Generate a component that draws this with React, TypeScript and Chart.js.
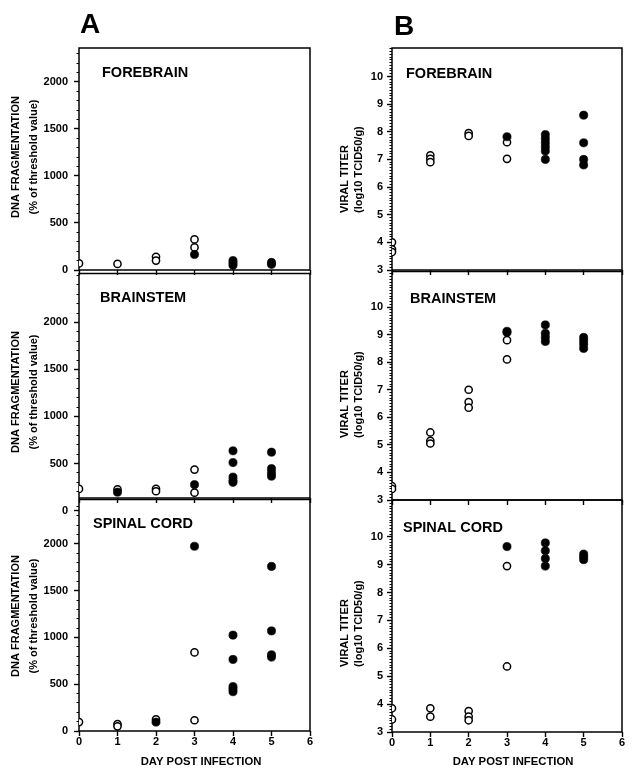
import React, { useEffect, useRef } from "react";
import { Chart, registerables } from "chart.js";

Chart.register(...registerables);

const FONT = "'Liberation Sans', Arial, Helvetica, sans-serif";

// ---- data (values by day post infection; each inner list = animals that day) ----
const days = [0, 1, 2, 3, 4, 5];

// DNA fragmentation (% of threshold value); open = open circles, filled = filled circles
const dnaForebrainOpen = [[70], [65], [140, 100], [325, 240], [], []];
const dnaForebrainFilled = [[], [], [], [165], [100, 75, 50], [80, 60]];
const dnaBrainstemOpen = [[230], [225], [230, 205], [435, 190], [], []];
const dnaBrainstemFilled = [[], [195], [], [275], [635, 510, 355, 320, 300], [620, 445, 400, 365]];
const dnaSpinalOpen = [[95], [75, 50], [125], [840, 115], [], []];
const dnaSpinalFilled = [[], [], [95], [1975], [1025, 765, 475, 450, 420], [1760, 1070, 815, 790]];

// Viral titer (log10 TCID50/g)
const titerForebrainOpen = [[4.0, 3.75, 3.65], [7.15, 7.02, 6.9], [7.95, 7.85], [7.62, 7.02], [], []];
const titerForebrainFilled = [[], [], [], [7.82], [7.9, 7.75, 7.6, 7.45, 7.3, 7.0], [8.6, 7.6, 7.0, 6.8]];
const titerBrainstemOpen = [[3.5, 3.4], [5.45, 5.15, 5.05], [7.0, 6.55, 6.35], [8.8, 8.1], [], []];
const titerBrainstemFilled = [[], [], [], [9.12, 9.08], [9.35, 9.05, 8.9, 8.75], [8.9, 8.78, 8.65, 8.5]];
const titerSpinalOpen = [[3.85, 3.45], [3.85, 3.55], [3.75, 3.55, 3.42], [8.95, 5.35], [], []];
const titerSpinalFilled = [[], [], [], [9.65], [9.78, 9.5, 9.22, 8.95], [9.38, 9.28, 9.18]];

// tick labels
const dnaMajorTicks = [0, 500, 1000, 1500, 2000];
const titerMajorTicks = [3, 4, 5, 6, 7, 8, 9, 10];
const dayTickMin = 0;
const dayTickMax = 6;

const regionNames = ["FOREBRAIN", "BRAINSTEM", "SPINAL CORD"];
const dnaTitle = ["DNA FRAGMENTATION", "(% of threshold value)"];
const titerTitle = ["VIRAL TITER", "(log10 TCID50/g)"];
const xTitle = "DAY POST INFECTION";

// ---- helpers ----
type Txt = {
  text: string;
  x: number;
  y: number;
  size: number;
  align?: CanvasTextAlign;
  baseline?: CanvasTextBaseline;
  rotate?: number;
};

type PanelSpec = {
  key: string;
  left: number;
  top: number;
  width: number;
  height: number;
  area: { left: number; top: number; right: number; bottom: number };
  yMin: number;
  yMax: number;
  yStep: number;
  majors: number[];
  extraTicks?: number[];
  yPad: number;
  showX: boolean;
  open: number[][];
  filled: number[][];
  texts: Txt[];
};

const toPoints = (byDay: number[][]) =>
  byDay.flatMap((vals, i) => vals.map((v) => ({ x: days[i], y: v })));

const framePlugin = {
  id: "frame",
  beforeDatasetsDraw(chart: any) {
    const { ctx, chartArea: a } = chart;
    ctx.save();
    ctx.strokeStyle = "#000";
    ctx.lineWidth = 1.5;
    ctx.strokeRect(a.left, a.top, a.right - a.left, a.bottom - a.top);
    ctx.restore();
  },
};

const makeTextPlugin = (items: Txt[], ox: number, oy: number) => ({
  id: "pageTexts",
  afterDraw(chart: any) {
    const ctx = chart.ctx;
    items.forEach((t) => {
      ctx.save();
      ctx.font = `bold ${t.size}px ${FONT}`;
      ctx.fillStyle = "#000";
      ctx.textAlign = t.align || "left";
      ctx.textBaseline = t.baseline || "alphabetic";
      ctx.translate(t.x - ox, t.y - oy);
      if (t.rotate) ctx.rotate(t.rotate);
      ctx.fillText(t.text, 0, 0);
      ctx.restore();
    });
  },
});

const rot = -Math.PI / 2;

const aTitles = (cy: number): Txt[] => [
  { text: dnaTitle[0], x: 16, y: cy, size: 11, align: "center", baseline: "middle", rotate: rot },
  { text: dnaTitle[1], x: 33.5, y: cy, size: 11, align: "center", baseline: "middle", rotate: rot },
];
const bTitles = (by: number): Txt[] => [
  { text: titerTitle[0], x: 345, y: by, size: 11, align: "left", baseline: "middle", rotate: rot },
  { text: titerTitle[1], x: 359, y: by, size: 11, align: "left", baseline: "middle", rotate: rot },
];

const panels: PanelSpec[] = [
  {
    key: "aF", left: 0, top: 0, width: 318, height: 282,
    area: { left: 79, top: 48, right: 310, bottom: 270 },
    yMin: 0, yMax: 2360, yStep: 100, majors: dnaMajorTicks, yPad: 6, showX: false,
    open: dnaForebrainOpen, filled: dnaForebrainFilled,
    texts: [
      { text: "A", x: 80, y: 33, size: 28 },
      { text: regionNames[0], x: 102, y: 77, size: 14.5 },
      ...aTitles(157),
    ],
  },
  {
    key: "aB", left: 0, top: 262, width: 318, height: 262,
    area: { left: 79, top: 270, right: 310, bottom: 498 },
    yMin: 133, yMax: 2520, yStep: 100, majors: dnaMajorTicks, extraTicks: [0], yPad: 6, showX: false,
    open: dnaBrainstemOpen, filled: dnaBrainstemFilled,
    texts: [{ text: regionNames[1], x: 100, y: 302, size: 14.5 }, ...aTitles(392)],
  },
  {
    key: "aS", left: 0, top: 488, width: 318, height: 292,
    area: { left: 79, top: 498, right: 310, bottom: 731 },
    yMin: 0, yMax: 2475, yStep: 100, majors: dnaMajorTicks, yPad: 6, showX: true,
    open: dnaSpinalOpen, filled: dnaSpinalFilled,
    texts: [
      { text: regionNames[2], x: 93, y: 528, size: 14.5 },
      ...aTitles(616),
      { text: xTitle, x: 201, y: 762, size: 11.3, align: "center", baseline: "middle" },
    ],
  },
  {
    key: "bF", left: 318, top: 0, width: 318, height: 282,
    area: { left: 392, top: 48, right: 622, bottom: 270 },
    yMin: 3, yMax: 11.03, yStep: 0.1, majors: titerMajorTicks, yPad: 4, showX: false,
    open: titerForebrainOpen, filled: titerForebrainFilled,
    texts: [
      { text: "B", x: 394, y: 35, size: 28 },
      { text: regionNames[0], x: 406, y: 78, size: 14.5 },
      ...bTitles(213),
    ],
  },
  {
    key: "bB", left: 318, top: 262, width: 318, height: 262,
    area: { left: 392, top: 270, right: 622, bottom: 500 },
    yMin: 3, yMax: 11.29, yStep: 0.1, majors: titerMajorTicks, yPad: 4, showX: false,
    open: titerBrainstemOpen, filled: titerBrainstemFilled,
    texts: [{ text: regionNames[1], x: 410, y: 303, size: 14.5 }, ...bTitles(438)],
  },
  {
    key: "bS", left: 318, top: 488, width: 318, height: 292,
    area: { left: 392, top: 500, right: 622, bottom: 732 },
    yMin: 3, yMax: 11.32, yStep: 0.1, majors: titerMajorTicks, yPad: 4, showX: true,
    open: titerSpinalOpen, filled: titerSpinalFilled,
    texts: [
      { text: regionNames[2], x: 403, y: 532, size: 14.5 },
      ...bTitles(667),
      { text: xTitle, x: 513, y: 762, size: 11.3, align: "center", baseline: "middle" },
    ],
  },
];

function Panel({ spec }: { spec: PanelSpec }) {
  const ref = useRef<HTMLCanvasElement>(null);
  useEffect(() => {
    const c = ref.current;
    if (!c) return;
    const s = spec;
    const a = s.area;
    const padTop = a.top - s.top;
    const padRight = s.left + s.width - a.right;
    const yW = a.left - s.left;
    const xH = s.top + s.height - a.bottom;
    const isMajor = (v: number) => s.majors.some((m) => Math.abs(m - v) < 1e-6);
    const tickFont = { family: FONT, size: 11, weight: "bold" as const, lineHeight: 1 };

    const chart = new Chart(c, {
      type: "scatter",
      data: {
        datasets: [
          {
            label: "filled",
            data: toPoints(s.filled),
            pointRadius: 4.1,
            pointHoverRadius: 4.1,
            pointBackgroundColor: "#000",
            pointBorderColor: "#000",
            pointBorderWidth: 0.6,
            showLine: false,
          },
          {
            label: "open",
            data: toPoints(s.open),
            pointRadius: 3.6,
            pointHoverRadius: 3.6,
            pointBackgroundColor: "#fff",
            pointBorderColor: "#000",
            pointBorderWidth: 1.5,
            showLine: false,
          },
        ],
      },
      options: {
        responsive: false,
        maintainAspectRatio: false,
        animation: false,
        devicePixelRatio: 1,
        events: [],
        layout: { padding: { top: padTop, right: padRight, left: 0, bottom: 0 } },
        plugins: { legend: { display: false }, tooltip: { enabled: false } },
        scales: {
          x: {
            type: "linear",
            min: dayTickMin,
            max: dayTickMax,
            afterFit: (sc: any) => {
              sc.height = xH;
            },
            ticks: {
              stepSize: 1,
              display: s.showX,
              autoSkip: false,
              maxRotation: 0,
              padding: 0,
              color: "#000",
              font: tickFont,
            },
            grid: {
              drawOnChartArea: false,
              drawTicks: true,
              tickLength: 5,
              tickColor: "#000",
              tickWidth: 1.4,
            },
            border: { display: false },
            title: { display: false },
          },
          y: {
            type: "linear",
            min: s.yMin,
            max: s.yMax,
            afterFit: (sc: any) => {
              sc.width = yW;
            },
            afterBuildTicks: (sc: any) => {
              const out: { value: number }[] = [];
              const k0 = Math.ceil(s.yMin / s.yStep - 1e-9);
              const k1 = Math.floor(s.yMax / s.yStep + 1e-9);
              for (let k = k0; k <= k1; k++) out.push({ value: +(k * s.yStep).toFixed(6) });
              const extra = (s.extraTicks || []).map((v) => ({ value: v }));
              sc.ticks = [...extra, ...out];
            },
            ticks: {
              stepSize: s.yStep,
              autoSkip: false,
              padding: s.yPad,
              color: "#000",
              font: tickFont,
              callback: (v: any) => (isMajor(Number(v)) ? String(Number(v)) : ""),
            },
            grid: {
              drawOnChartArea: false,
              drawTicks: true,
              tickLength: 5,
              tickColor: "#000",
              tickWidth: (ctx: any) => (ctx.tick && isMajor(ctx.tick.value) ? 1.4 : 1),
              tickBorderDash: (ctx: any) => (ctx.tick && isMajor(ctx.tick.value) ? [] : [2.5, 100]),
              tickBorderDashOffset: (ctx: any) => (ctx.tick && isMajor(ctx.tick.value) ? 0 : -2.5),
            } as any,
            border: { display: false },
            title: { display: false },
          },
        },
      } as any,
      plugins: [framePlugin, makeTextPlugin(s.texts, s.left, s.top)],
    });
    return () => chart.destroy();
  }, [spec]);

  return (
    <canvas
      ref={ref}
      width={spec.width}
      height={spec.height}
      style={{
        position: "absolute",
        left: spec.left,
        top: spec.top,
        width: spec.width,
        height: spec.height,
      }}
    />
  );
}

export default function App() {
  return (
    <div
      style={{
        position: "absolute",
        left: 0,
        top: 0,
        width: 636,
        height: 780,
        background: "#fff",
        overflow: "hidden",
      }}
    >
      {panels.map((p) => (
        <Panel key={p.key} spec={p} />
      ))}
    </div>
  );
}
